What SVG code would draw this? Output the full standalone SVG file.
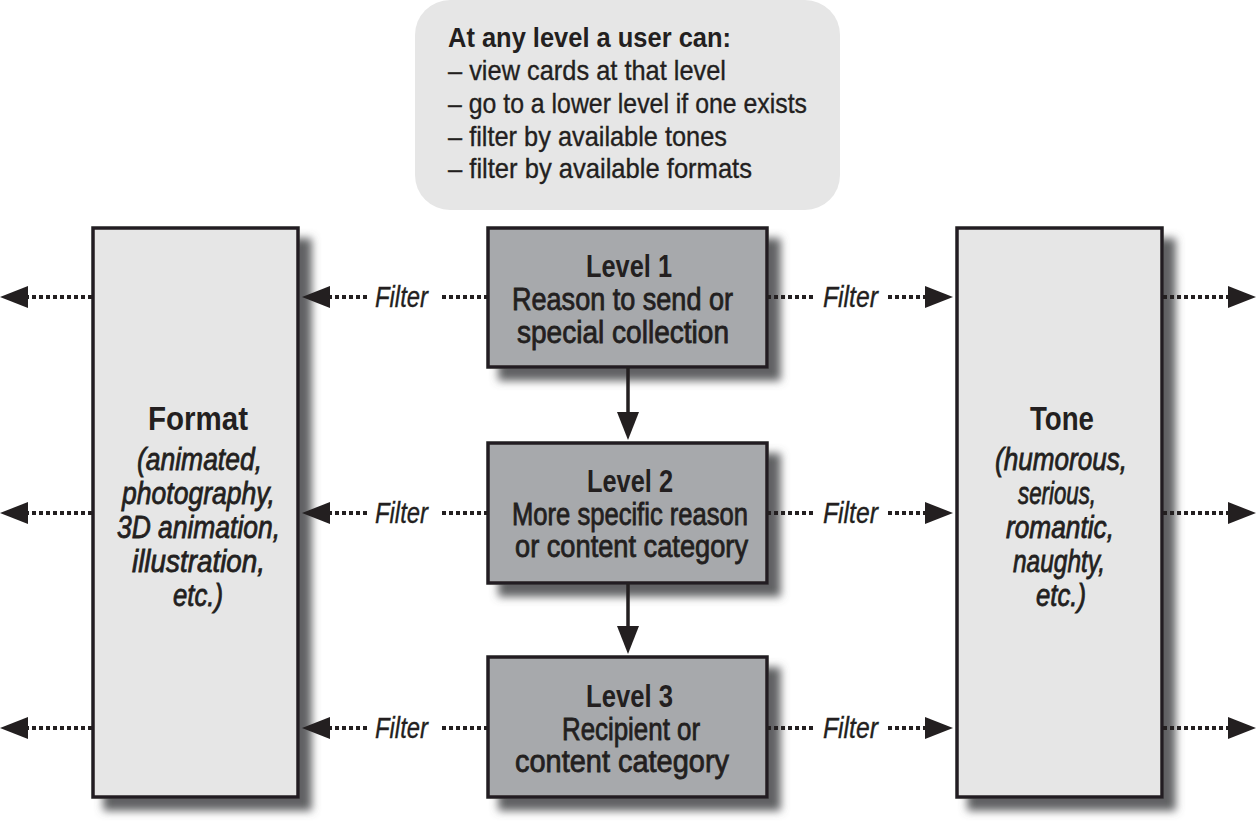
<svg xmlns="http://www.w3.org/2000/svg" width="1256" height="823" viewBox="0 0 1256 823">
<style>
text{font-family:"Liberation Sans",Arial,sans-serif;fill:#231f20}
.b{font-weight:bold}
.sb{stroke:#231f20;stroke-width:0.8}
.rg{stroke:#231f20;stroke-width:0.35}
.it{font-style:italic}
.box{stroke:#231f20;stroke-width:3.5}
.dot{fill:none;stroke:#231f20;stroke-width:4;stroke-dasharray:4 3}
.sol{fill:none;stroke:#231f20;stroke-width:3.5}
</style>
<defs>
<filter id="sh" x="-10%" y="-10%" width="140%" height="140%">
<feGaussianBlur in="SourceAlpha" stdDeviation="4"/>
<feOffset dx="12" dy="12" result="b"/>
<feFlood flood-color="#606163"/>
<feComposite in2="b" operator="in"/>
<feMerge><feMergeNode/><feMergeNode in="SourceGraphic"/></feMerge>
</filter>
<marker id="ah" markerUnits="userSpaceOnUse" markerWidth="28" markerHeight="22" refX="0" refY="11" orient="auto" overflow="visible">
<path d="M0,0 L28,11 L0,22 z" fill="#231f20"/>
</marker>
</defs>
<rect width="1256" height="823" fill="#fff"/>

<g id="callout">
<rect x="415" y="0" width="425" height="210" rx="35" fill="#e6e6e6"/>
<text class="b" x="448" y="47" font-size="28" textLength="283" lengthAdjust="spacingAndGlyphs">At any level a user can:</text>
<text class="rg" x="448" y="80" font-size="28" textLength="278" lengthAdjust="spacingAndGlyphs">–  view cards at that level</text>
<text class="rg" x="448" y="113" font-size="28" textLength="359" lengthAdjust="spacingAndGlyphs">– go to a lower level if one exists</text>
<text class="rg" x="448" y="146" font-size="28" textLength="279" lengthAdjust="spacingAndGlyphs">– filter by available tones</text>
<text class="rg" x="448" y="178" font-size="28" textLength="304" lengthAdjust="spacingAndGlyphs">– filter by available formats</text>
</g>

<g id="format">
<rect class="box" x="93" y="228" width="205" height="569" fill="#e6e6e6" filter="url(#sh)"/>
<text class="b" x="148" y="430" font-size="34" textLength="100" lengthAdjust="spacingAndGlyphs">Format</text>
<text class="it sb" x="137" y="470" font-size="31" textLength="125" lengthAdjust="spacingAndGlyphs">(animated,</text>
<text class="it sb" x="122" y="504" font-size="31" textLength="153" lengthAdjust="spacingAndGlyphs">photography,</text>
<text class="it sb" x="117" y="538" font-size="31" textLength="163" lengthAdjust="spacingAndGlyphs">3D animation,</text>
<text class="it sb" x="132" y="572" font-size="31" textLength="133" lengthAdjust="spacingAndGlyphs">illustration,</text>
<text class="it sb" x="173" y="606" font-size="31" textLength="50" lengthAdjust="spacingAndGlyphs">etc.)</text>
</g>

<g id="tone">
<rect class="box" x="957" y="228" width="205" height="569" fill="#e6e6e6" filter="url(#sh)"/>
<text class="b" x="1030" y="430" font-size="34" textLength="64" lengthAdjust="spacingAndGlyphs">Tone</text>
<text class="it sb" x="995" y="470" font-size="31" textLength="132" lengthAdjust="spacingAndGlyphs">(humorous,</text>
<text class="it sb" x="1018" y="504" font-size="31" textLength="78" lengthAdjust="spacingAndGlyphs">serious,</text>
<text class="it sb" x="1006" y="538" font-size="31" textLength="108" lengthAdjust="spacingAndGlyphs">romantic,</text>
<text class="it sb" x="1013" y="572" font-size="31" textLength="92" lengthAdjust="spacingAndGlyphs">naughty,</text>
<text class="it sb" x="1036" y="606" font-size="31" textLength="50" lengthAdjust="spacingAndGlyphs">etc.)</text>
</g>

<g id="level1">
<rect class="box" x="488" y="228" width="279" height="139" fill="#a7a9ac" filter="url(#sh)"/>
<text class="b" x="586" y="277" font-size="31" textLength="86" lengthAdjust="spacingAndGlyphs">Level 1</text>
<text class="sb" x="512" y="310" font-size="31" textLength="221" lengthAdjust="spacingAndGlyphs">Reason to send or</text>
<text class="sb" x="517" y="343" font-size="31" textLength="212" lengthAdjust="spacingAndGlyphs">special collection</text>
</g>

<g id="level2">
<rect class="box" x="488" y="443" width="279" height="140" fill="#a7a9ac" filter="url(#sh)"/>
<text class="b" x="587" y="492" font-size="31" textLength="86" lengthAdjust="spacingAndGlyphs">Level 2</text>
<text class="sb" x="512" y="525" font-size="31" textLength="236" lengthAdjust="spacingAndGlyphs">More specific reason</text>
<text class="sb" x="515" y="557" font-size="31" textLength="233" lengthAdjust="spacingAndGlyphs">or content category</text>
</g>

<g id="level3">
<rect class="box" x="488" y="657" width="279" height="140" fill="#a7a9ac" filter="url(#sh)"/>
<text class="b" x="586" y="707" font-size="31" textLength="87" lengthAdjust="spacingAndGlyphs">Level 3</text>
<text class="sb" x="562" y="740" font-size="31" textLength="138" lengthAdjust="spacingAndGlyphs">Recipient or</text>
<text class="sb" x="515" y="772" font-size="31" textLength="214" lengthAdjust="spacingAndGlyphs">content category</text>
</g>

<g id="connectors">
<path class="sol" d="M628,367 V412" marker-end="url(#ah)"/>
<path class="sol" d="M628,583 V626" marker-end="url(#ah)"/>

<path class="dot" d="M92,297 H28" marker-end="url(#ah)"/>
<path class="dot" d="M367,297 H330" marker-end="url(#ah)"/>
<path class="dot" d="M488,297 H440"/>
<path class="dot" d="M767,297 H815"/>
<path class="dot" d="M888,297 H925" marker-end="url(#ah)"/>
<path class="dot" d="M1163,297 H1228" marker-end="url(#ah)"/>

<path class="dot" d="M92,513 H28" marker-end="url(#ah)"/>
<path class="dot" d="M367,513 H330" marker-end="url(#ah)"/>
<path class="dot" d="M488,513 H440"/>
<path class="dot" d="M767,513 H815"/>
<path class="dot" d="M888,513 H925" marker-end="url(#ah)"/>
<path class="dot" d="M1163,513 H1228" marker-end="url(#ah)"/>

<path class="dot" d="M92,728 H28" marker-end="url(#ah)"/>
<path class="dot" d="M367,728 H330" marker-end="url(#ah)"/>
<path class="dot" d="M488,728 H440"/>
<path class="dot" d="M767,728 H815"/>
<path class="dot" d="M888,728 H925" marker-end="url(#ah)"/>
<path class="dot" d="M1163,728 H1228" marker-end="url(#ah)"/>

<text class="it rg" x="375" y="307" font-size="30" textLength="53" lengthAdjust="spacingAndGlyphs">Filter</text>
<text class="it rg" x="823" y="307" font-size="30" textLength="55" lengthAdjust="spacingAndGlyphs">Filter</text>
<text class="it rg" x="375" y="523" font-size="30" textLength="53" lengthAdjust="spacingAndGlyphs">Filter</text>
<text class="it rg" x="823" y="523" font-size="30" textLength="55" lengthAdjust="spacingAndGlyphs">Filter</text>
<text class="it rg" x="375" y="738" font-size="30" textLength="53" lengthAdjust="spacingAndGlyphs">Filter</text>
<text class="it rg" x="823" y="738" font-size="30" textLength="55" lengthAdjust="spacingAndGlyphs">Filter</text>
</g>
</svg>
